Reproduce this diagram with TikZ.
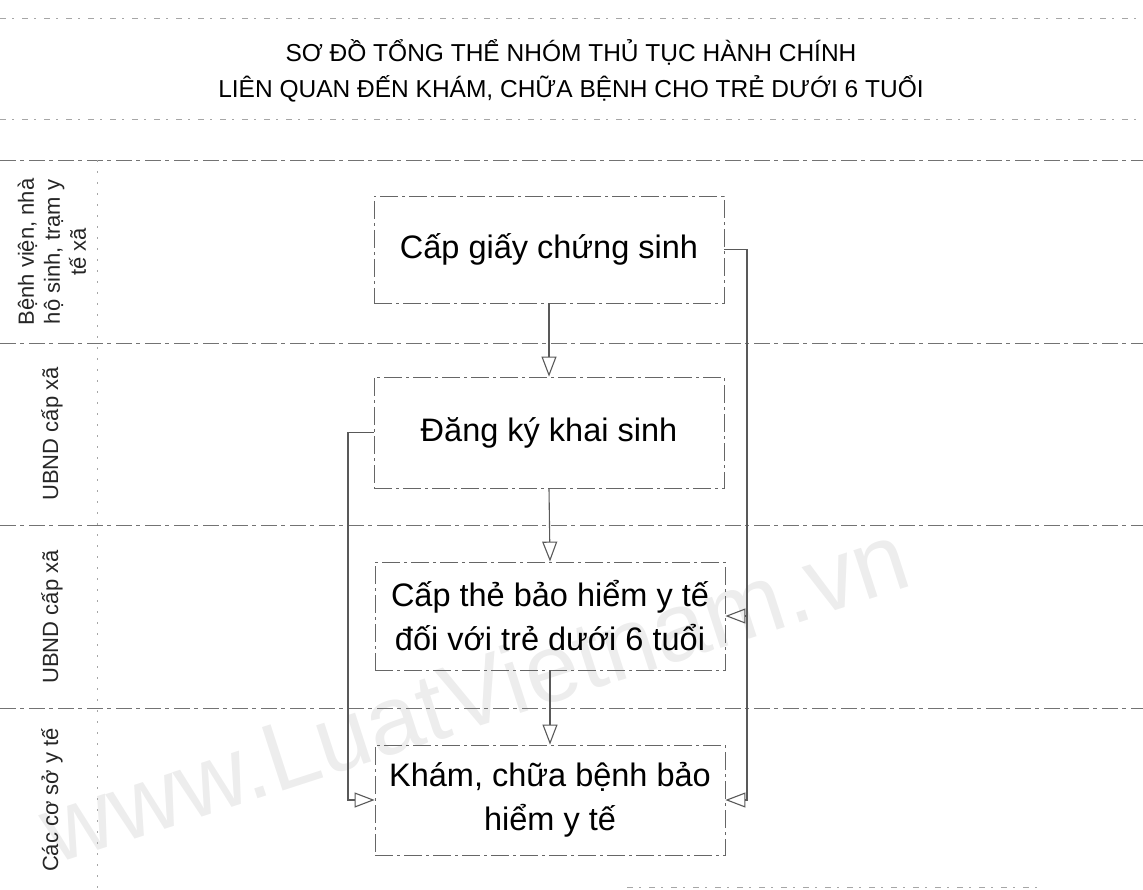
\documentclass[tikz,border=0pt]{standalone}
\usepackage{fontspec}
\setmainfont{Liberation Sans}
\usetikzlibrary{arrows.meta}
\begin{document}
\begin{tikzpicture}[x=1pt,y=-1pt,
  rule/.style={draw=black!55, line width=0.8pt, dash pattern=on 16pt off 4pt on 4pt off 5pt},
  faintrule/.style={draw=black!35, line width=0.7pt, dash pattern=on 6pt off 6pt on 2pt off 8pt},
  colrule/.style={draw=black!35, line width=0.7pt, dash pattern=on 2pt off 9pt},
  box/.style={draw=black!60, line width=0.8pt, dash pattern=on 18pt off 4pt on 3pt off 4pt,
    minimum width=350pt, align=center, font=\fontsize{32.5}{44}\selectfont, inner sep=0pt},
  lane/.style={rotate=90, align=center, font=\fontsize{22}{26}\selectfont, text=black!85},
  conn/.style={draw=black!65, line width=1.1pt, -{Triangle[open, length=20pt, width=15pt]}},
  ttl/.style={font=\fontsize{24.5}{24.5}\selectfont}
]
\useasboundingbox (0,0) rectangle (1143,890);
% watermark
\node[rotate=18, text=black!7, font=\fontsize{97}{97}\selectfont] (wm) at (474,692) {www.LuatVietnam.vn};
% title
\node[ttl, anchor=base] (t1) at (571,62) {SƠ ĐỒ TỔNG THỂ NHÓM THỦ TỤC HÀNH CHÍNH};
\node[ttl, anchor=base] (t2) at (571,98) {LIÊN QUAN ĐẾN KHÁM, CHỮA BỆNH CHO TRẺ DƯỚI 6 TUỔI};
% rules
\draw[faintrule] (0,18) -- (1143,18);
\draw[faintrule] (0,119) -- (1143,119);
\draw[rule] (0,160) -- (1143,160);
\draw[rule] (0,343) -- (1143,343);
\draw[rule] (0,525) -- (1143,525);
\draw[rule] (0,708) -- (1143,708);
\draw[faintrule] (627,887) -- (1040,887);
\draw[colrule] (97,160) -- (97,890);
% lane labels
\node[lane] (l1) at (52,252) {Bệnh viện, nhà\\hộ sinh, trạm y\\tế xã};
\node[lane] (l2) at (52,434) {UBND cấp xã};
\node[lane] (l3) at (52,617) {UBND cấp xã};
\node[lane] (l4) at (52,800) {Các cơ sở y tế};
% boxes
\node[box, minimum height=107pt] (b1) at (549,249.5) {Cấp giấy chứng sinh};
\node[box, minimum height=111pt] (b2) at (549,432.5) {Đăng ký khai sinh};
\node[box, minimum height=108pt] (b3) at (550,616) {Cấp thẻ bảo hiểm y tế\\đối với trẻ dưới 6 tuổi};
\node[box, minimum height=110pt] (b4) at (550,800) {Khám, chữa bệnh bảo\\hiểm y tế};
% connectors
\draw[conn] (b1.south) -- (b2.north);
\draw[conn] (b2.south) -- (b3.north);
\draw[conn] (b3.south) -- (b4.north);
\coordinate (lr) at (348,0);
\coordinate (rr) at (747,0);
\draw[conn] (b2.west) -- (b2.west -| lr) |- (b4.west);
\draw[conn] (b1.east) -- (b1.east -| rr) |- (b4.east);
\draw[conn] (b3.east -| rr) -- (b3.east);
\end{tikzpicture}
\end{document}
